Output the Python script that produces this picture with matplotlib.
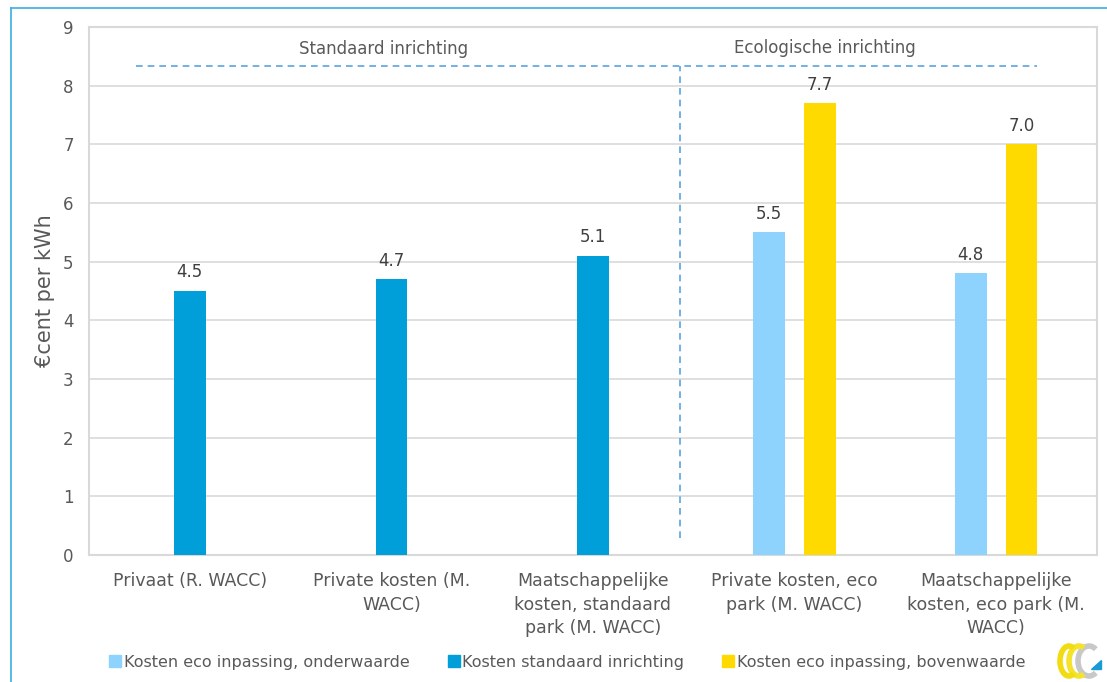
import numpy as np
import matplotlib
matplotlib.use("Agg")
import matplotlib.pyplot as plt
from matplotlib.lines import Line2D
from matplotlib.patches import Arc, Polygon

plt.rcParams['font.family'] = ['DejaVu Sans']

categories = [
    "Privaat (R. WACC)",
    "Private kosten (M.\nWACC)",
    "Maatschappelijke\nkosten, standaard\npark (M. WACC)",
    "Private kosten, eco\npark (M. WACC)",
    "Maatschappelijke\nkosten, eco park (M.\nWACC)",
]
series_names = [
    "Kosten eco inpassing, onderwaarde",
    "Kosten standaard inrichting",
    "Kosten eco inpassing, bovenwaarde",
]
eco_onder = [None, None, None, 5.5, 4.8]
standaard = [4.5, 4.7, 5.1, None, None]
eco_boven = [None, None, None, 7.7, 7.0]
series_values = [eco_onder, standaard, eco_boven]
series_colors = ["#8DD3FD", "#009FDA", "#FFDA00"]

y_ticks = list(range(0, 10))
section_labels = ["Standaard inrichting", "Ecologische inrichting"]

TEXT = "#595959"
GRID = "#D9D9D9"

fig = plt.figure(figsize=(11.07, 6.82), dpi=100)
ax = fig.add_axes([89 / 1107, 1 - 555 / 682, (1097 - 89) / 1107, (555 - 27) / 682])

x = np.arange(len(categories))
offsets = [-0.126, 0.0, 0.126]
width = 0.157
for vals, off, col in zip(series_values, offsets, series_colors):
    for xi, v in zip(x, vals):
        if v is None:
            continue
        ax.bar(xi + off, v, width=width, color=col, zorder=3)
        ax.annotate(f"{v:.1f}", (xi + off, v), xytext=(0, 7),
                    textcoords="offset points", ha="center", va="bottom",
                    fontsize=12, color="#404040")

ax.set_xlim(-0.5, len(categories) - 0.5)
ax.set_ylim(0, 9)
ax.set_yticks(y_ticks)
ax.set_xticks(x)
ax.set_xticklabels(categories, fontsize=12.5, color=TEXT, linespacing=1.37)
ax.tick_params(axis="both", length=0)
ax.tick_params(axis="y", labelsize=12, labelcolor=TEXT, pad=11)
ax.tick_params(axis="x", pad=12.5)
ax.grid(axis="y", color=GRID, linewidth=1.2, zorder=0)
for s in ax.spines.values():
    s.set_color(GRID)
    s.set_linewidth(1.5)
ax.set_ylabel("€cent per kWh", fontsize=15, color=TEXT, labelpad=6)

# section dividers
ax.plot([-0.267, 4.20], [8.33, 8.33], linestyle=(0, (4, 3)), color="#5BA3DE",
        linewidth=1.2, zorder=4, clip_on=False)
ax.plot([2.43, 2.43], [0.29, 8.33], linestyle=(0, (4, 3)), color="#5BA3DE",
        linewidth=1.2, zorder=4)
ax.text(0.963, 8.62, section_labels[0], ha="center", va="center", fontsize=12, color=TEXT)
ax.text(3.15, 8.64, section_labels[1], ha="center", va="center", fontsize=12, color=TEXT)

# legend
handles = [Line2D([], [], marker="s", linestyle="none", markersize=8,
                  markerfacecolor=c, markeredgecolor=c) for c in series_colors]
fig.legend(handles, series_names, loc="center", bbox_to_anchor=(0.512, 1 - 662 / 682),
           ncol=3, frameon=False, fontsize=11.5, labelcolor=TEXT,
           handletextpad=0.1, columnspacing=2.3, handlelength=0.9)

# outer frame
fig.add_artist(Line2D([11 / 1107, 11 / 1107], [0, 1 - 8 / 682], color="#3AAEE0",
                      linewidth=1.2, transform=fig.transFigure))
fig.add_artist(Line2D([11 / 1107, 1], [1 - 8 / 682, 1 - 8 / 682], color="#3AAEE0",
                      linewidth=1.2, transform=fig.transFigure))

# logo
lax = fig.add_axes([1055 / 1107, 1 - 682 / 682, 50 / 1107, 42 / 682])
lax.set_xlim(0, 50)
lax.set_ylim(0, 42)
lax.axis("off")
lax.add_patch(Arc((34, 21), 22, 30, theta1=60, theta2=300, color="#C8C8C8", linewidth=4))
lax.add_patch(Arc((24, 21), 20, 30, theta1=70, theta2=290, color="#F5E22A", linewidth=4))
lax.add_patch(Arc((14, 21), 18, 30, theta1=70, theta2=290, color="#F0DC10", linewidth=4))
lax.add_patch(Polygon([[36, 13], [46, 13], [46, 22]], closed=True, color="#1A9AD6"))

fig.savefig("out.png", dpi=100, facecolor="white")
